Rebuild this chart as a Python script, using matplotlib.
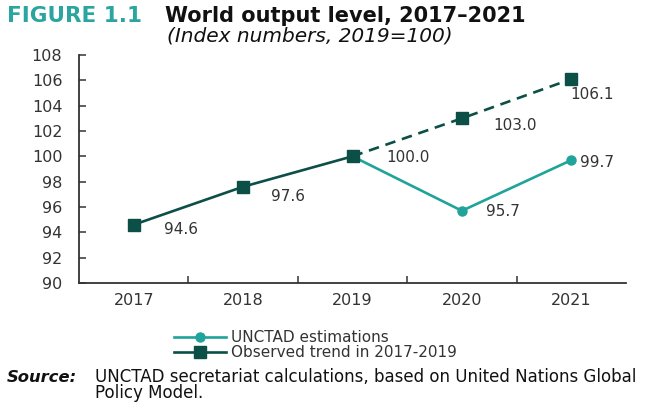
import matplotlib
matplotlib.use("Agg")
import matplotlib.pyplot as plt
from matplotlib.ticker import FixedLocator
from matplotlib.lines import Line2D

plt.rcParams['font.family'] = ['DejaVu Sans']

years = ['2017', '2018', '2019', '2020', '2021']
observed = [94.6, 97.6, 100.0]
trend = [100.0, 103.0, 106.1]
unctad = [100.0, 95.7, 99.7]
yticks = list(range(90, 109, 2))

dark = '#0b4f47'
teal = '#1fa39a'
txt = '#333333'

fig = plt.figure(figsize=(6.46, 4.17), dpi=100)
W, H = 646, 417
ax = fig.add_axes([79 / W, 1 - 283 / H, (626 - 79) / W, (283 - 55) / H])

x_obs = [0, 1, 2]
x_tr = [2, 3, 4]
ax.plot(x_tr, trend, color=dark, lw=1.9, ls=(0, (4, 2.6)), zorder=2)
ax.plot(x_tr[1:], trend[1:], ls='none', marker='s', ms=8, color=dark, zorder=4)
ax.plot(x_tr, unctad, color=teal, lw=1.9, zorder=3)
ax.plot(x_tr[1:], unctad[1:], ls='none', marker='o', ms=6.5, color=teal, zorder=4)
ax.plot(x_obs, observed, color=dark, lw=1.9, marker='s', ms=8, zorder=5)

# label offsets in pixels (left edge of text, vertical centre)
lab_obs = [(30, -5), (28, -10), (34, -1)]
lab_tr = [(31, -7), (-1, -15)]
lab_un = [(24, -1), (9, -2)]
lfs = 11
for xi, v, (dx, dy) in zip(x_obs, observed, lab_obs):
    ax.annotate(f'{v:.1f}', (xi, v), xytext=(dx, dy), textcoords='offset pixels',
                fontsize=lfs, color=txt, ha='left', va='center')
for xi, v, (dx, dy) in zip(x_tr[1:], trend[1:], lab_tr):
    ax.annotate(f'{v:.1f}', (xi, v), xytext=(dx, dy), textcoords='offset pixels',
                fontsize=lfs, color=txt, ha='left', va='center')
for xi, v, (dx, dy) in zip(x_tr[1:], unctad[1:], lab_un):
    ax.annotate(f'{v:.1f}', (xi, v), xytext=(dx, dy), textcoords='offset pixels',
                fontsize=lfs, color=txt, ha='left', va='center')

ax.set_xlim(-0.5, 4.5)
ax.set_ylim(90, 108)
ax.set_yticks(yticks)
ax.set_xticks(range(len(years)))
ax.set_xticklabels(years)
ax.xaxis.set_minor_locator(FixedLocator([0.5, 1.5, 2.5, 3.5]))
ax.tick_params(axis='x', which='major', length=0, pad=7, labelsize=11.5, labelcolor=txt)
ax.tick_params(axis='x', which='minor', length=5, direction='in', color='#333333', width=1.1)
ax.tick_params(axis='y', which='major', length=5, direction='in', pad=12, labelsize=11.5,
               labelcolor=txt, color='#333333', width=1.1)
for s in ['top', 'right']:
    ax.spines[s].set_visible(False)
for s in ['left', 'bottom']:
    ax.spines[s].set_color('#333333')
    ax.spines[s].set_linewidth(1.3)

# legend
h1 = Line2D([], [], color=teal, lw=1.9, marker='o', ms=6.5)
h2 = Line2D([], [], color=dark, lw=1.9, marker='s', ms=8)
fig.legend([h1, h2], ['UNCTAD estimations', 'Observed trend in 2017-2019'],
           loc='upper left', bbox_to_anchor=(174 / W, 1 - 330 / H), frameon=False,
           fontsize=11, handlelength=3.4, handletextpad=0.35, labelspacing=0.0,
           borderpad=0, borderaxespad=0, labelcolor='#333333')

# titles
fig.text(7 / W, 1 - 21.7 / H, 'FIGURE 1.1', fontsize=15.5, fontweight='bold', color='#2aa59f', va='baseline')
fig.text(165 / W, 1 - 21.7 / H, 'World output level, 2017\u20132021', fontsize=15, fontweight='bold',
         color='#111111', va='baseline')
fig.text(167 / W, 1 - 41 / H, '(Index numbers, 2019=100)', fontsize=14.5, style='italic',
         color='#111111', va='baseline')

fig.text(7 / W, 1 - 382 / H, 'Source:', fontsize=11.8, fontweight='bold', style='italic',
         color='#111111', va='baseline')
fig.text(95 / W, 1 - 398 / H,
         'UNCTAD secretariat calculations, based on United Nations Global\nPolicy Model.',
         fontsize=12, color='#111111', va='baseline', linespacing=0.88)

fig.savefig('out.png', dpi=100)
